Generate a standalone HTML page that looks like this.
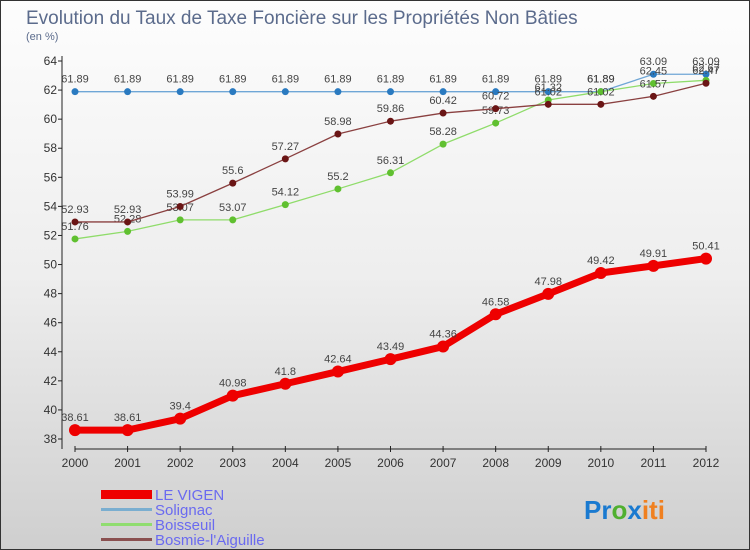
<!DOCTYPE html>
<html><head><meta charset="utf-8"><style>
body{margin:0;width:750px;height:550px;overflow:hidden;font-family:"Liberation Sans",sans-serif}
#wrap{position:relative;width:748px;height:548px;border:1px solid #333;background:linear-gradient(180deg,#fdfdfd 0%,#eeeeee 50%,#cfcfcf 100%)}
</style></head><body>
<div id="wrap">
<svg id="chart" width="748" height="548" style="position:absolute;left:0;top:0">
<text x="25" y="23" font-size="19" fill="#5b6b8c">Evolution du Taux de Taxe Foncière sur les Propriétés Non Bâties</text>
<text x="25" y="39" font-size="11" fill="#5b6b8c">(en %)</text>
<g id="axes"></g><g id="series"></g>
<g font-size="15" fill="#6a6af0">
<rect x="100" y="489" width="51" height="9" fill="#e00"/>
<text x="154" y="499">LE VIGEN</text>
<rect x="100" y="507" width="51" height="3" fill="#7aaed0"/>
<text x="154" y="514">Solignac</text>
<rect x="100" y="522" width="51" height="3" fill="#90dd70"/>
<text x="154" y="529">Boisseuil</text>
<rect x="100" y="537" width="51" height="3" fill="#8a5050"/>
<text x="154" y="544">Bosmie-l'Aiguille</text>
</g>
<text x="583" y="518" font-size="26" font-weight="bold"><tspan fill="#1a7ad0">Pr</tspan><tspan fill="#50b030">o</tspan><tspan fill="#1a7ad0">x</tspan><tspan fill="#f08020">iti</tspan></text>
</svg>
</div>
<script>
const years=[2000,2001,2002,2003,2004,2005,2006,2007,2008,2009,2010,2011,2012];
const yTicks=[38,40,42,44,46,48,50,52,54,56,58,60,62,64];
const leVigen=[38.61,38.61,39.4,40.98,41.8,42.64,43.49,44.36,46.58,47.98,49.42,49.91,50.41];
const solignac=[61.89,61.89,61.89,61.89,61.89,61.89,61.89,61.89,61.89,61.89,61.89,63.09,63.09];
const boisseuil=[51.76,52.28,53.07,53.07,54.12,55.2,56.31,58.28,59.73,61.32,61.89,62.45,62.67];
const bosmie=[52.93,52.93,53.99,55.6,57.27,58.98,59.86,60.42,60.72,61.02,61.02,61.57,62.47];
const NS='http://www.w3.org/2000/svg';
const xS=i=>74+i*(705-74)/(years.length-1);
const yS=v=>438-(v-38)*(438-60)/26;
function mk(t,a,p){const e=document.createElementNS(NS,t);for(const k in a)e.setAttribute(k,a[k]);p.appendChild(e);return e;}
const ax=document.getElementById('axes'),sg=document.getElementById('series');
mk('line',{x1:61,y1:55,x2:61,y2:448,stroke:'#222'},ax);
mk('line',{x1:74,y1:448,x2:705,y2:448,stroke:'#222'},ax);
yTicks.forEach(v=>{
  const g=mk('line',{x1:57,y1:yS(v),x2:61,y2:yS(v),stroke:'#222'},ax);
  
  
  const t=mk('text',{x:56,y:yS(v)+4,'font-size':12,'text-anchor':'end',fill:'#333'},ax);
  t.textContent=v;
  
  
});
years.forEach((y,i)=>{
  mk('line',{x1:xS(i),y1:445,x2:xS(i),y2:451,stroke:'#222'},ax);
  const t=mk('text',{x:xS(i),y:466,'font-size':12,'text-anchor':'middle',fill:'#333'},ax);
  t.textContent=y;
  
  
});
function series(vals,color,dot,w,r,name){
  const g=mk('g',{},sg);
  
  
  const pl=mk('polyline',{points:vals.map((v,i)=>xS(i)+','+yS(v)).join(' '),fill:'none',stroke:color,'stroke-width':w,'stroke-linejoin':'round'},g);
  
  
  vals.forEach((v,i)=>{
    const c=mk('circle',{cx:xS(i),cy:yS(v),r:r,fill:dot},g);
    
    
    const t=mk('text',{x:xS(i),y:yS(v)-9,'font-size':11,'text-anchor':'middle',fill:'#444'},g);
    t.textContent=v;
    
    
  });
}
series(solignac,'#6fa6d6','#2a7ac0',1.3,3.5,'solignac');
series(boisseuil,'#8fdc6a','#60c030',1.3,3.5,'boisseuil');
series(bosmie,'#8a4040','#6a1515',1.3,3.5,'bosmie');
series(leVigen,'#ee0000','#ee0000',7,6,'le-vigen');
</script>
</body></html>
